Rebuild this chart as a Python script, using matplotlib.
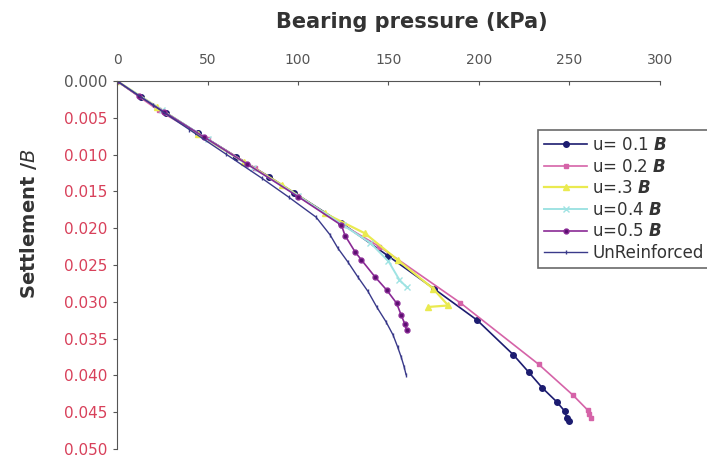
import matplotlib.pyplot as plt

# bearing pressure (kPa) / settlement ratio
p_u01 = [0, 13, 27, 45, 66, 84, 98, 124, 150, 175, 199, 219, 227.6, 235, 243, 247.5, 248.5, 249.5]
s_u01 = [0, 0.0022, 0.0043, 0.0071, 0.0103, 0.0130, 0.0152, 0.0193, 0.0238, 0.0282, 0.0325, 0.0372, 0.0396, 0.0417, 0.0436, 0.0449, 0.0458, 0.0462]

p_u02 = [0, 23, 50, 76, 100, 125, 145, 189.5, 233, 252, 260, 261, 262]
s_u02 = [0, 0.0040, 0.0079, 0.0118, 0.0156, 0.0196, 0.0225, 0.0301, 0.0385, 0.0427, 0.0447, 0.0453, 0.0458]

p_u03 = [0, 22, 45, 70, 91, 115, 137, 155, 174.6, 183, 172]
s_u03 = [0, 0.0035, 0.0072, 0.0110, 0.0141, 0.0180, 0.0207, 0.0243, 0.0282, 0.0305, 0.0307]

p_u04 = [0, 25, 50, 75, 100, 125, 140, 150, 156, 160]
s_u04 = [0, 0.0040, 0.0079, 0.0118, 0.0156, 0.0196, 0.0220, 0.0245, 0.0270, 0.0280]

p_u05 = [0, 12, 26, 48, 72, 100, 124, 126, 131.5, 135, 142.5, 149, 154.5, 157, 159, 160]
s_u05 = [0, 0.0020, 0.0042, 0.0076, 0.0113, 0.0157, 0.0196, 0.0210, 0.0232, 0.0243, 0.0266, 0.0284, 0.0302, 0.0318, 0.0330, 0.0338]

p_unr = [0, 20, 40, 60, 80, 95, 110, 117.7, 122, 127.6, 133, 138.7, 143.5, 148.6, 152.5, 155, 157, 158.6, 159.7]
s_unr = [0, 0.0033, 0.0066, 0.0099, 0.0132, 0.0158, 0.0185, 0.0209, 0.0227, 0.0246, 0.0266, 0.0286, 0.0307, 0.0327, 0.0345, 0.0361, 0.0375, 0.0388, 0.0399]

x_ticks = [0, 50, 100, 150, 200, 250, 300]
y_ticks = [0.000, 0.005, 0.010, 0.015, 0.020, 0.025, 0.030, 0.035, 0.040, 0.045, 0.050]

B = r"$\mathbfit{B}$"

fig = plt.figure(figsize=(7.07, 4.65), dpi=100)
ax = fig.add_axes([0.1655, 0.0344, 0.768, 0.7914])

ax.plot(p_u01, s_u01, color="#1c1c70", lw=1.2, marker="o", ms=4, label="u= 0.1 " + B)
ax.plot(p_u02, s_u02, color="#d563a8", lw=1.2, marker="s", ms=3.5, label="u= 0.2 " + B)
ax.plot(p_u03, s_u03, color="#eaea50", lw=1.6, marker="^", ms=5, label="u=.3 " + B)
ax.plot(p_u04, s_u04, color="#9fe3e3", lw=1.4, marker="x", ms=4, label="u=0.4 " + B)
ax.plot(p_u05, s_u05, color="#8a2a95", lw=1.2, marker="o", ms=3.5, mfc="#5a1070", label="u=0.5 " + B)
ax.plot(p_unr, s_unr, color="#3a3a8a", lw=1.0, marker="|", ms=3, label="UnReinforced")

ax.set_xlim(0, 300)
ax.set_ylim(0.050, 0.000)
ax.set_xticks(x_ticks)
ax.set_yticks(y_ticks)
ax.set_yticklabels([f"{v:.3f}" for v in y_ticks])
ax.xaxis.tick_top()
ax.xaxis.set_label_position("top")
ax.tick_params(axis="x", direction="in", length=3, colors="#555555", labelsize=10, pad=10)
ax.tick_params(axis="y", direction="out", length=3, colors="#555555", labelsize=11, pad=4)
for i, lab in enumerate(ax.get_yticklabels()):
    lab.set_color("#555555" if i == 0 else "#d8405a")

for s in ["right", "bottom"]:
    ax.spines[s].set_visible(False)
ax.spines["top"].set_color("#555555")
ax.spines["left"].set_color("#555555")

fig.text(0.583, 0.952, "Bearing pressure (kPa)", ha="center", va="center",
         fontsize=15, fontweight="bold", color="#333333")
fig.text(0.040, 0.52, r"Settlement /$\it{B}$", ha="center", va="center", rotation=90,
         fontsize=14, fontweight="bold", color="#333333")

# legend runs past the right edge, as in the source image
leg = fig.legend(loc="upper left", bbox_to_anchor=(538 / 707, 1 - 130 / 465), fontsize=12,
                 frameon=True, fancybox=False, edgecolor="#444444", handlelength=2.6,
                 handletextpad=0.3, borderpad=0.35, labelspacing=0.22, borderaxespad=0)
leg.get_frame().set_linewidth(1.2)
for t in leg.get_texts():
    t.set_color("#333333")

fig.savefig("out.png", dpi=100)
